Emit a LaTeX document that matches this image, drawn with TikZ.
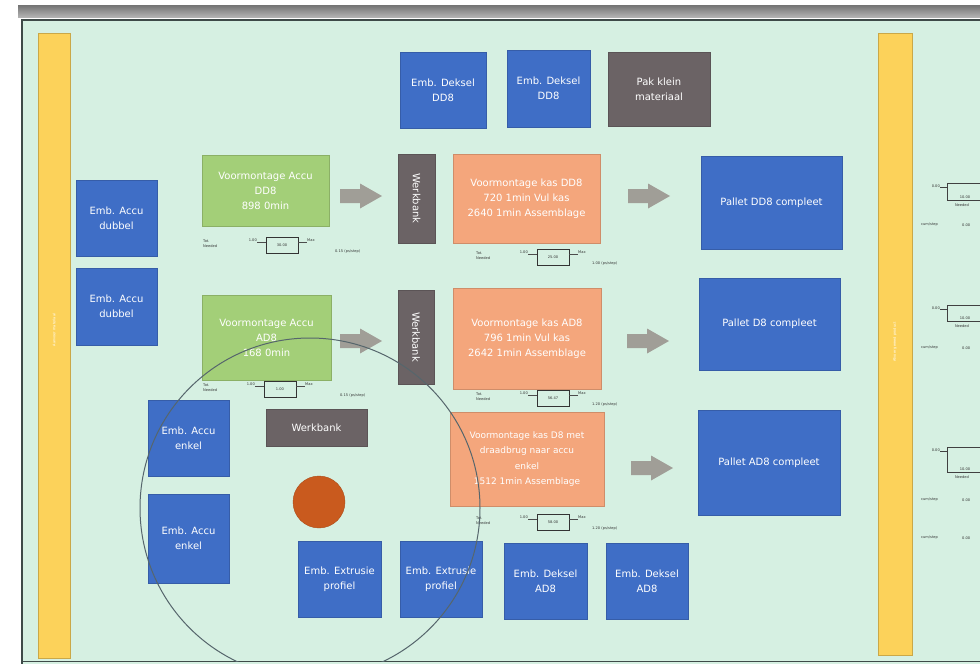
\documentclass[tikz,border=0pt]{standalone}
\usepackage{fontspec}
\setmainfont{DejaVu Sans}
\definecolor{bg}{HTML}{D6F0E2}
\definecolor{blu}{HTML}{3F6EC6}
\definecolor{dgray}{HTML}{6B6365}
\definecolor{grn}{HTML}{A3CF78}
\definecolor{org}{HTML}{F4A67C}
\definecolor{yel}{HTML}{FCD25A}
\definecolor{agray}{HTML}{A09E97}
\definecolor{ring}{HTML}{56666C}
\definecolor{frm}{HTML}{3E4A48}
\definecolor{rust}{HTML}{C95A1E}
\tikzset{
  blk/.style={fill=#1, draw=#1!85!black, line width=0.7pt, text=white, align=center,
    inner sep=0pt, outer sep=0pt, font=\fontsize{10}{15}\selectfont},
  tinyt/.style={font=\fontsize{3.6}{4.3}\selectfont, text=black!80, inner sep=0pt, align=left},
  minibox/.style={draw=black!80, line width=0.8pt},
}
\newcommand\barrow[2]{\fill[agray] (#1,#2) ++(0,-7) -- ++(20,0) -- ++(0,-5.5) -- ++(22,12.5) -- ++(-22,12.5) -- ++(0,-5.5) -- ++(-20,0) -- cycle;}
% #1 tot x, #2 minibox x, #3 minibox top y, #4 value, #5 rate x, #6 rate text
\newcommand\annot[6]{%
  \node[tinyt, anchor=north west] at (#1,#3+3) {Tot.\\Needed};
  \draw[minibox] (#2,#3) rectangle (#2+32,#3+16);
  \node[tinyt] at (#2+16,#3+8) {#4};
  \draw[black!70, line width=0.6pt] (#2-9,#3+5) -- (#2,#3+5);
  \draw[black!70, line width=0.6pt] (#2+32,#3+5) -- (#2+41,#3+5);
  \node[tinyt, anchor=east] at (#2-9,#3+3) {1.00};
  \node[tinyt, anchor=west] at (#2+41,#3+3) {Max};
  \node[tinyt, anchor=west] at (#5,#3+15) {#6};
}
\begin{document}
\begin{tikzpicture}[x=1pt,y=-1pt]
\useasboundingbox (0,0) rectangle (980,664);
\fill[white] (0,0) rectangle (980,664);
% window strip
\shade[top color=black!55, bottom color=black!30] (18,5) rectangle (980,17);
\fill[bg] (22,20) rectangle (980,664);
\draw[frm, line width=1.6pt] (22,664) -- (22,20) -- (982,20);
\draw[frm, line width=1pt] (22,661) -- (982,661);
% yellow side bars
\fill[yel] (38,33) rectangle (70,658);
\draw[yel!80!black, line width=0.6pt] (38,33) rectangle (70,658);
\node[rotate=90, font=\fontsize{3.5}{4}\selectfont, text=white] (lbar) at (54,330) {Aanvoer materiaal};
\fill[yel] (878,33) rectangle (912,655);
\draw[yel!80!black, line width=0.6pt] (878,33) rectangle (912,655);
\node[rotate=90, font=\fontsize{3.5}{4}\selectfont, text=white] (rbar) at (895,342) {Afvoer gereed product};

% top boxes
\node[blk=blu, minimum width=86pt, minimum height=76pt] (dd1) at (443,90) {Emb. Deksel\\DD8};
\node[blk=blu, minimum width=83pt, minimum height=77pt] (dd2) at (548.5,88.5) {Emb. Deksel\\DD8};
\node[blk=dgray, minimum width=102pt, minimum height=74pt] (pak) at (659,89) {Pak klein\\materiaal};

% left boxes
\node[blk=blu, minimum width=81pt, minimum height=76pt] (ad1) at (116.5,218) {Emb. Accu\\dubbel};
\node[blk=blu, minimum width=81pt, minimum height=77pt] (ad2) at (116.5,306.5) {Emb. Accu\\dubbel};
\node[blk=blu, minimum width=81pt, minimum height=76pt] (ae1) at (188.5,438) {Emb. Accu\\enkel};
\node[blk=blu, minimum width=81pt, minimum height=89pt] (ae2) at (188.5,538.5) {Emb. Accu\\enkel};

% row 1
\node[blk=grn, minimum width=127pt, minimum height=71pt] (g1) at (265.5,190.5) {Voormontage Accu\\DD8\\898 0min};
\barrow{340}{196}
\node[blk=dgray, rotate=-90, minimum width=89pt, minimum height=37pt] (wb1) at (416.5,198.5) {Werkbank};
\node[blk=org, minimum width=147pt, minimum height=89pt] (o1) at (526.5,198.5) {Voormontage kas DD8\\720 1min Vul kas\\2640 1min Assemblage};
\barrow{628}{196}
\node[blk=blu, minimum width=141pt, minimum height=93pt] (p1) at (771.5,202.5) {Pallet DD8 compleet};

% row 2
\node[blk=grn, minimum width=129pt, minimum height=85pt] (g2) at (266.5,337.5) {Voormontage Accu\\AD8\\168 0min};
\barrow{340}{341}
\node[blk=dgray, rotate=-90, minimum width=94pt, minimum height=36pt] (wb2) at (416,337) {Werkbank};
\node[blk=org, minimum width=148pt, minimum height=101pt] (o2) at (527,338.5) {Voormontage kas AD8\\796 1min Vul kas\\2642 1min Assemblage};
\barrow{627}{341}
\node[blk=blu, minimum width=141pt, minimum height=92pt] (p2) at (769.5,324) {Pallet D8 compleet};

% row 3
\node[blk=dgray, minimum width=101pt, minimum height=37pt] (wb3) at (316.5,427.5) {Werkbank};
\node[blk=org, minimum width=154pt, minimum height=94pt, font=\fontsize{9}{15.5}\selectfont] (o3) at (527,459) {Voormontage kas D8 met\\draadbrug naar accu\\enkel\\1512 1min Assemblage};
\barrow{631}{468}
\node[blk=blu, minimum width=142pt, minimum height=105pt] (p3) at (769,462.5) {Pallet AD8 compleet};
\node[circle, fill=rust, draw=rust!85!black, minimum size=52pt, inner sep=0pt] (dot) at (319,502) {};

% bottom boxes
\node[blk=blu, minimum width=83pt, minimum height=76pt] (ex1) at (339.5,579) {Emb. Extrusie\\profiel};
\node[blk=blu, minimum width=82pt, minimum height=76pt] (ex2) at (441,579) {Emb. Extrusie\\profiel};
\node[blk=blu, minimum width=83pt, minimum height=76pt] (da1) at (545.5,581) {Emb. Deksel\\AD8};
\node[blk=blu, minimum width=82pt, minimum height=76pt] (da2) at (647,581) {Emb. Deksel\\AD8};

% annotations
\annot{203}{266}{237}{30.00}{335}{0.15 (ps/step)}
\annot{476}{537}{249}{25.00}{592}{1.00 (ps/step)}
\annot{203}{264}{381}{1.00}{340}{0.15 (ps/step)}
\annot{476}{537}{390}{56.47}{592}{1.20 (ps/step)}
\annot{476}{537}{514}{58.00}{592}{1.20 (ps/step)}

% right partial elements
\begin{scope}
\clip (913,20) rectangle (980,664);
\foreach \yy/\hh in {183/17, 305/16, 447/25}{
  \draw[black!75, line width=0.9pt] (985,\yy) -- (947,\yy) -- (947,\yy+\hh) -- (985,\yy+\hh);
  \draw[black!75, line width=0.6pt] (940,\yy+4) -- (947,\yy+4);
  \node[tinyt, anchor=east] at (940,\yy+3) {0.00};
  \node[tinyt] at (965,\yy+\hh-3) {10.00};
  \node[tinyt] at (962,\yy+\hh+5) {Needed};
}
\foreach \yy in {225, 348, 500, 538}{
  \node[tinyt, anchor=west] at (921,\yy) {cum/step};
  \node[tinyt, anchor=west] at (962,\yy) {0.00};
}
\end{scope}

% large ring
\begin{scope}
\clip (22,20) rectangle (980,661);
\draw[ring, line width=1pt] (310,508) circle (170);
\end{scope}
\end{tikzpicture}
\end{document}
